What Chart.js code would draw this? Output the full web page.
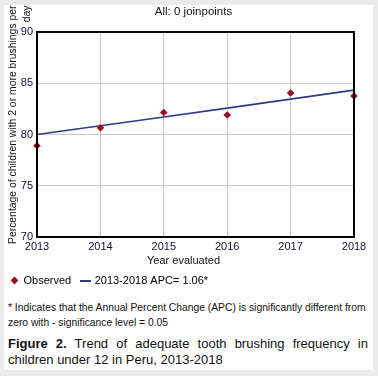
<!DOCTYPE html>
<html lang="en">
<head>
    <meta charset="UTF-8">
    <title>Tooth brushing trend</title>
    <script src="https://cdn.jsdelivr.net/npm/chart.js"></script>
    <style>
        body { margin: 0; background: #ebebeb; width: 378px; height: 376px; position: relative; overflow: hidden; font-family: 'Liberation Sans', Arial, sans-serif; }
        .painel { position: absolute; left: 4px; top: 5px; width: 369px; height: 365px; background: #fff; }
        .grafico { position: absolute; left: 0; top: 5px; width: 373px; height: 291px; }
        .nota { position: absolute; left: 8px; top: 300px; font-size: 10.3px; line-height: 15px; color: #111; white-space: nowrap; }
        .legenda { position: absolute; left: 8px; top: 336px; width: 360px; font-size: 13px; line-height: 16px; color: #111; text-align: justify; }
    </style>
</head>
<body>
    <div class="painel"></div>
    <div class="grafico"><canvas id="myChart"></canvas></div>
    <div class="nota">* Indicates that the Annual Percent Change (APC) is significantly different from<br>zero with - significance level = 0.05</div>
    <div class="legenda"><b>Figure 2.</b> Trend of adequate tooth brushing frequency in children under 12 in Peru, 2013-2018</div>
</body>
</html>
<script>
    // dados
    const anos = ['2013', '2014', '2015', '2016', '2017', '2018'];
    const observado = [78.9, 80.65, 82.15, 81.9, 84.05, 83.75];
    const tendencia = [80.0, 80.85, 81.7, 82.57, 83.45, 84.33];
    const ticksY = [70, 75, 80, 85, 90];

    const fonte = "'Liberation Sans', Arial, sans-serif";
    const vermelho = '#9b0d22';
    const azul = '#2e3a87';

    // marcador de linha para a legenda
    const marcaLinha = document.createElement('canvas');
    marcaLinha.width = 11;
    marcaLinha.height = 2;
    const mctx = marcaLinha.getContext('2d');
    mctx.fillStyle = azul;
    mctx.fillRect(0, 0, 11, 2);

    // textos extras: titulo, titulos dos eixos e moldura
    const textosExtras = {
        id: 'textosExtras',
        afterDraw(chart) {
            const ctx = chart.ctx;
            const a = chart.chartArea;
            ctx.save();
            ctx.strokeStyle = '#000';
            ctx.lineWidth = 2;
            ctx.strokeRect(a.left, a.top, a.right - a.left, a.bottom - a.top);

            ctx.fillStyle = '#111';
            ctx.textBaseline = 'middle';
            ctx.textAlign = 'center';
            ctx.font = '11.5px ' + fonte;
            ctx.fillText('All: 0 joinpoints', (a.left + a.right) / 2 - 2, 7);
            ctx.font = '11px ' + fonte;
            ctx.fillText('Year evaluated', (a.left + a.right) / 2 - 12, 256);

            ctx.font = '10.4px ' + fonte;
            ctx.textAlign = 'right';
            ctx.translate(13, 0.5);
            ctx.rotate(-Math.PI / 2);
            ctx.fillText('Percentage of children with 2 or more brushings per', 0, 0);
            ctx.fillText('day', 0, 14);
            ctx.restore();
        }
    };

    const dados = {
        labels: anos,
        datasets: [
            {
                label: 'Observed',
                data: observado,
                showLine: false,
                pointStyle: 'rectRot',
                pointRadius: 3.8,
                pointHoverRadius: 3.8,
                backgroundColor: vermelho,
                borderColor: vermelho,
                borderWidth: 0,
                order: 0
            },
            {
                label: '2013-2018 APC= 1.06*',
                data: tendencia,
                borderColor: azul,
                borderWidth: 1.6,
                pointRadius: 0,
                tension: 0,
                order: 1
            }
        ]
    };

    const options = {
        responsive: true,
        maintainAspectRatio: false,
        animation: false,
        layout: { padding: { left: 0, right: 19, top: 27, bottom: 0 } },
        scales: {
            x: {
                offset: false,
                grid: { color: '#c8c8c8', drawTicks: false, offset: false },
                border: { color: '#000', width: 2 },
                ticks: { color: '#111133', padding: 3, maxRotation: 0, font: { family: fonte, size: 11 } },
                afterFit(scale) { scale.height = 27; }
            },
            y: {
                min: 70,
                max: 90,
                grid: { color: '#c8c8c8', drawTicks: false },
                border: { color: '#000', width: 2 },
                afterBuildTicks(scale) { scale.ticks = ticksY.map(v => ({ value: v })); },
                ticks: { color: '#111133', padding: 4, font: { family: fonte, size: 11 } },
                afterFit(scale) { scale.width = 37; }
            }
        },
        plugins: {
            title: { display: false },
            tooltip: { enabled: false },
            legend: {
                position: 'bottom',
                align: 'start',
                labels: {
                    usePointStyle: true,
                    boxWidth: 7,
                    boxHeight: 5.5,
                    padding: 11,
                    color: '#111',
                    font: { family: fonte, size: 11 },
                    generateLabels(chart) {
                        return [
                            { text: 'Observed', pointStyle: 'rectRot', fillStyle: vermelho, strokeStyle: vermelho, lineWidth: 0, datasetIndex: 0, hidden: false },
                            { text: '2013-2018 APC= 1.06*', pointStyle: marcaLinha, fillStyle: azul, strokeStyle: azul, lineWidth: 0, datasetIndex: 1, hidden: false }
                        ];
                    }
                }
            }
        }
    };

    new Chart(document.getElementById('myChart'), {
        type: 'line',
        data: dados,
        options: options,
        plugins: [textosExtras]
    });
</script>
